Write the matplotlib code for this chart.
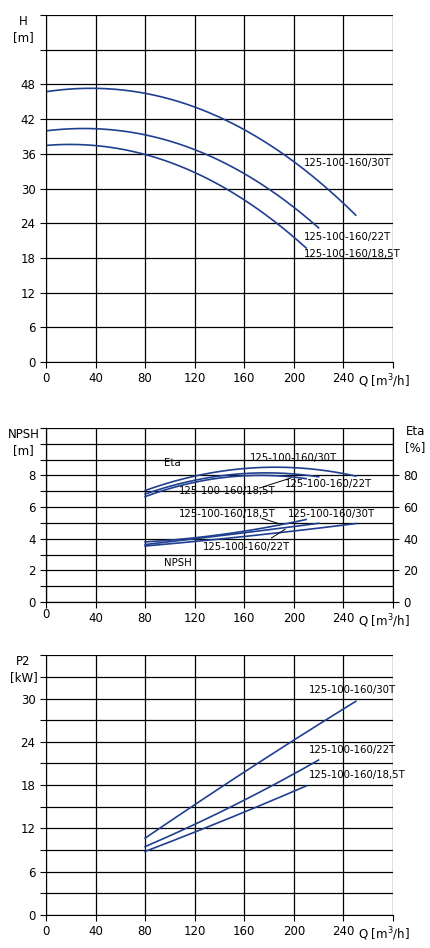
import numpy as np
import matplotlib
matplotlib.use("Agg")
import matplotlib.pyplot as plt

models = ["125-100-160/30T", "125-100-160/22T", "125-100-160/18,5T"]
h_q = [[0, 40, 80, 120, 160, 200, 230, 250],
       [0, 40, 80, 120, 160, 200, 220],
       [0, 40, 80, 120, 160, 200, 210]]
h_v = [[46.8, 47.2, 46.5, 44.2, 40.2, 34.5, 29.5, 25.4],
       [40.0, 40.3, 39.3, 36.8, 32.5, 26.8, 23.2],
       [37.5, 37.3, 36.0, 32.8, 28.0, 21.5, 19.8]]
q2 = [[80, 120, 160, 200, 250],
      [80, 120, 160, 200, 220],
      [80, 120, 160, 200, 210]]
eta_v = [[70, 80.5, 84.5, 84, 80],
         [68, 77.5, 81, 80.5, 79.5],
         [66.5, 76, 79.5, 79, 78]]
npsh_v = [[3.55, 3.8, 4.15, 4.5, 4.95],
          [3.65, 3.95, 4.4, 4.8, 4.95],
          [3.8, 4.05, 4.5, 5.0, 5.25]]
p2_v = [[10.8, 15, 19.8, 24.5, 29.5],
        [9.5, 12.5, 16, 19.5, 21.5],
        [8.8, 11.5, 14.3, 17, 18]]
xticks = [0, 40, 80, 120, 160, 200, 240]

C = "#1f3f8f"
FS = 8.5
fig = plt.figure(figsize=(4.31, 9.48), dpi=100)

def smooth(x, y, deg=3):
    x = np.asarray(x, float); y = np.asarray(y, float)
    p = np.polyfit(x, y, min(deg, len(x) - 1))
    xs = np.linspace(x[0], x[-1], 200)
    return xs, np.polyval(p, xs)

def setup(ax, ymax, ystep, labels, xlabels, ytitle):
    ax.set_xlim(0, 280); ax.set_ylim(0, ymax)
    ax.set_xticks(np.arange(0, 281, 40))
    ax.set_xticklabels(xlabels)
    ax.set_yticks(np.arange(0, ymax + 0.001, ystep))
    ax.set_yticklabels(labels)
    ax.grid(True, color="black", lw=0.9)
    ax.spines["top"].set_visible(False)
    ax.tick_params(labelsize=FS, length=4)
    ax.annotate("Q [m$^3$/h]", xy=(0.975, 0), xycoords="axes fraction",
                xytext=(0, -7.5), textcoords="offset points", ha="center", va="top", fontsize=FS)
    ax.text(-0.065, 1.0, ytitle, transform=ax.transAxes, ha="center", va="top",
            fontsize=FS, linespacing=1.3)

# Top: H
ax1 = fig.add_axes([0.1067, 0.6181, 0.805, 0.366])
setup(ax1, 60, 6, ["0", "6", "12", "18", "24", "30", "36", "42", "48", "", ""],
      [str(t) for t in xticks] + [""], "H\n[m]")
ax1.spines["right"].set_visible(False)
for q, h in zip(h_q, h_v):
    xs, ys = smooth(q, h, 3)
    ax1.plot(xs, ys, color=C, lw=1.2)
ax1.text(208, 34.5, models[0], fontsize=7.3, va="center")
ax1.text(208, 21.6, models[1], fontsize=7.3, va="center")
ax1.text(208, 18.7, models[2], fontsize=7.3, va="center")

# Middle: NPSH / Eta
ax2 = fig.add_axes([0.1067, 0.365, 0.805, 0.1835])
setup(ax2, 11, 1, ["0", "", "2", "", "4", "", "6", "", "8", "", "", ""],
      [""] + [str(t) for t in xticks[1:]] + [""], "NPSH\n[m]")
ax2.text(0, -0.035, "0", transform=ax2.transAxes, ha="center", va="top", fontsize=FS)
ax3 = ax2.twinx()
ax3.set_ylim(0, 110)
ax3.set_yticks(np.arange(0, 81, 20))
ax3.tick_params(labelsize=FS, length=4)
ax3.spines["top"].set_visible(False)
ax3.text(1.065, 1.02, "Eta\n[%]", transform=ax3.transAxes, ha="center", va="top", fontsize=FS, linespacing=1.3)
for q, e, n in zip(q2, eta_v, npsh_v):
    xs, ys = smooth(q, e, 2)
    ax3.plot(xs, ys, color=C, lw=1.2)
    xs, ys = smooth(q, n, 2)
    ax2.plot(xs, ys, color=C, lw=1.2)
ax2.text(95, 8.6, "Eta", fontsize=7.3)
ax2.text(95, 2.3, "NPSH", fontsize=7.3)
ax2.text(200, 8.9, models[0], fontsize=7.3, ha="center")
ax2.text(228, 7.3, models[1], fontsize=7.3, ha="center")
ax2.text(146, 6.8, models[2], fontsize=7.3, ha="center")
ax2.annotate("", xy=(200, 7.9), xytext=(170, 7.15), arrowprops=dict(arrowstyle="-", lw=0.7))
ax2.text(146, 5.4, models[2], fontsize=7.3, ha="center")
ax2.annotate("", xy=(190, 4.9), xytext=(172, 5.35), arrowprops=dict(arrowstyle="-", lw=0.7))
ax2.text(230, 5.4, models[0], fontsize=7.3, ha="center")
ax2.text(162, 3.3, models[1], fontsize=7.3, ha="center")
ax2.annotate("", xy=(195, 4.7), xytext=(180, 3.95), arrowprops=dict(arrowstyle="-", lw=0.7))

# Bottom: P2
ax4 = fig.add_axes([0.1067, 0.0348, 0.805, 0.274])
setup(ax4, 36, 3, ["0", "", "6", "", "12", "", "18", "", "24", "", "30", "", ""],
      [str(t) for t in xticks] + [""], "P2\n[kW]")
ax4.spines["right"].set_visible(False)
for q, p in zip(q2, p2_v):
    xs, ys = smooth(q, p, 2)
    ax4.plot(xs, ys, color=C, lw=1.2)
ax4.text(212, 30.8, models[0], fontsize=7.3)
ax4.text(212, 22.5, models[1], fontsize=7.3)
ax4.text(212, 19.0, models[2], fontsize=7.3)

fig.savefig("out.png", dpi=100)
